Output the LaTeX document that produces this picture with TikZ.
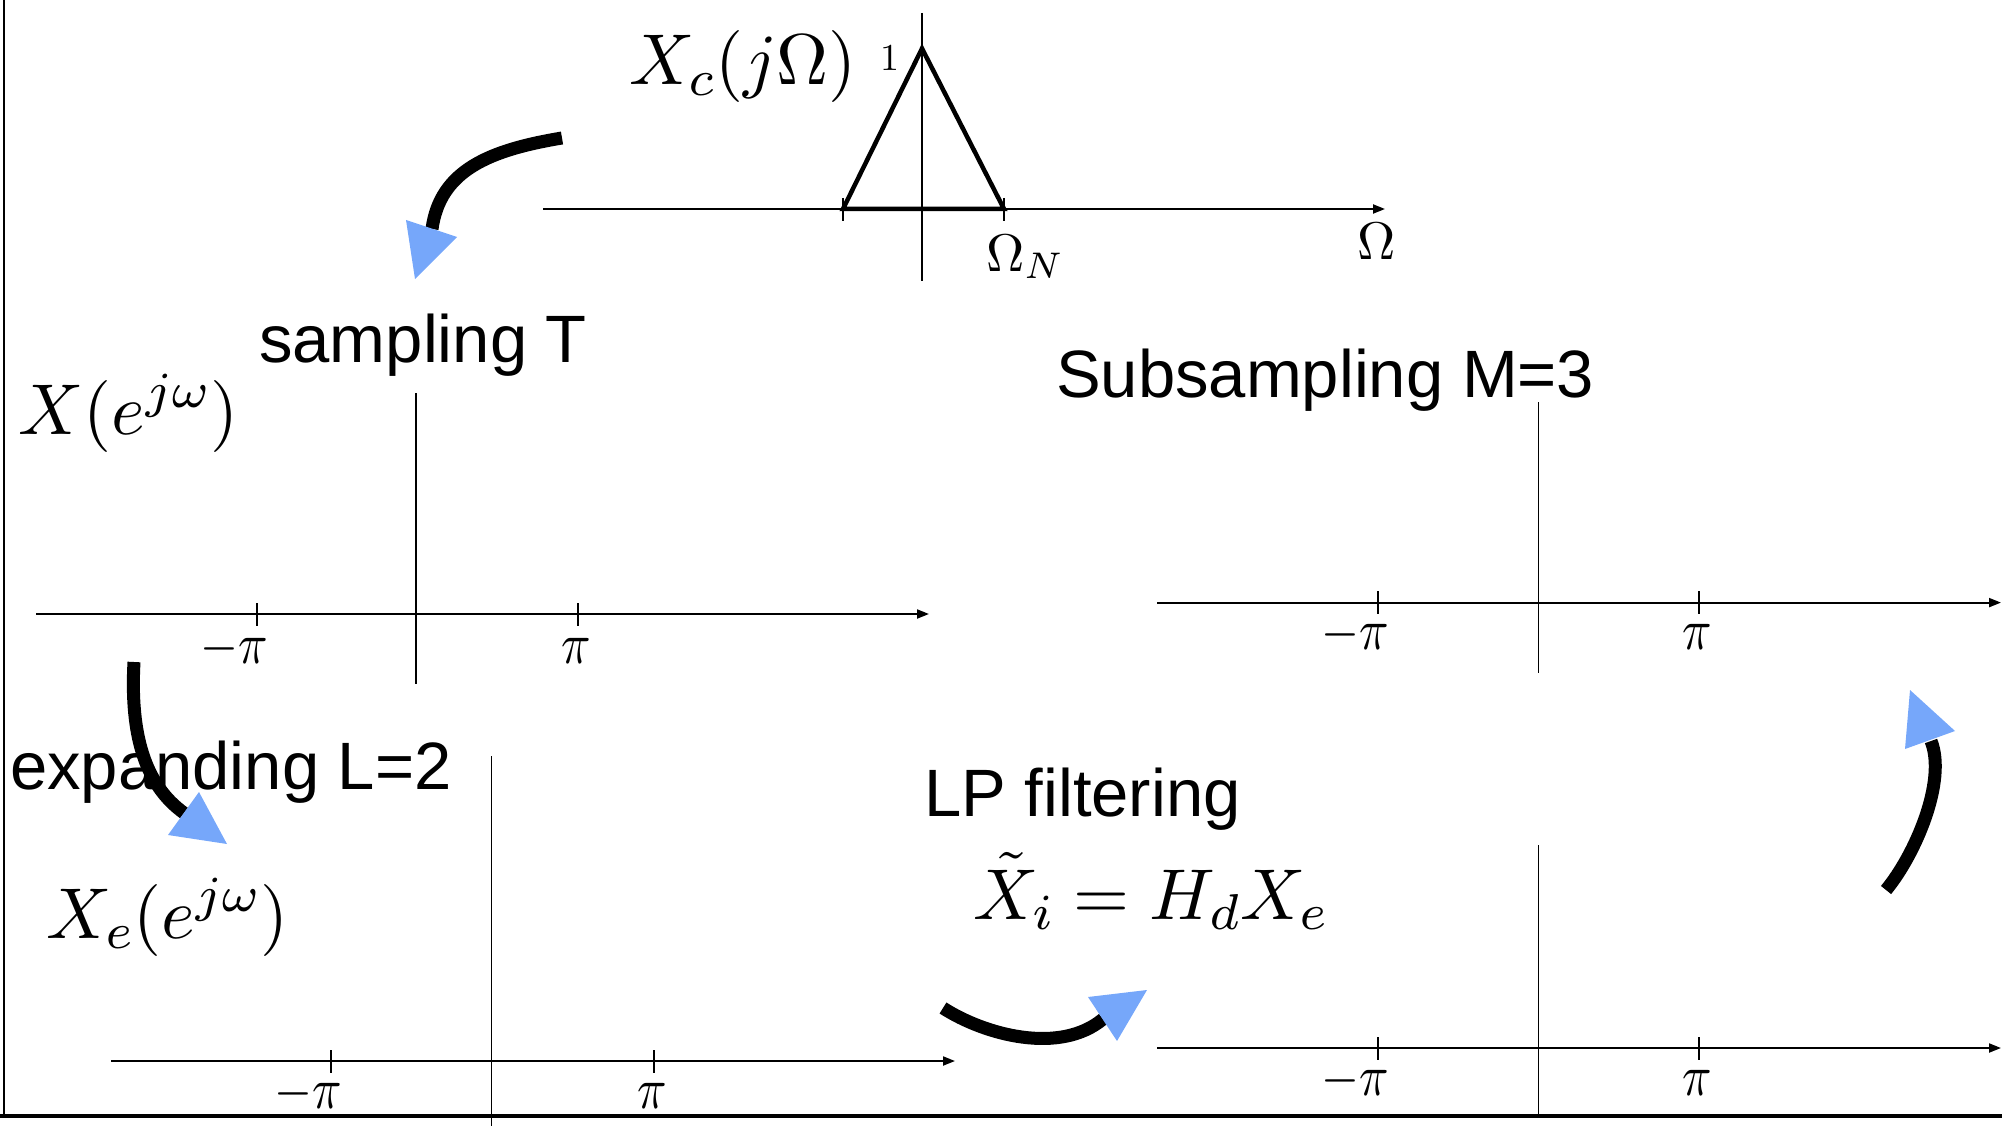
\documentclass[tikz,border=0pt]{standalone}
\usepackage{fontspec}
\newfontfamily\sansf{Liberation Sans}
\DeclareFontShape{OT1}{cmr}{m}{n}{<->cmr10}{}
\DeclareFontShape{OML}{cmm}{m}{it}{<-51>cmmi7 <51->cmmi10}{}
\DeclareFontShape{OMS}{cmsy}{m}{n}{<->cmsy10}{}
\DeclareFontShape{OMX}{cmex}{m}{n}{<->cmex10}{}
\usetikzlibrary{arrows.meta}
\definecolor{ablue}{RGB}{118,167,250}
\newcommand{\tlab}[1]{\scalebox{0.92}[1.1]{$#1$}}
\begin{document}
\begin{tikzpicture}[x=1pt,y=-1pt,
  vaxis/.style={line width=1.5pt},
  haxis/.style={line width=2pt,-{Triangle[length=12pt,width=9pt]}},
  tickmark/.style={line width=1.5pt},
  flow/.style={line width=13pt},
  head/.style={fill=ablue},
  big/.style={inner sep=0pt,font=\fontsize{72}{80}\selectfont},
  small/.style={inner sep=0pt,font=\fontsize{53}{60}\selectfont},
  tiny/.style={inner sep=0pt,font=\fontsize{38}{44}\selectfont},
  stxt/.style={inner sep=0pt,font=\fontsize{67}{72}\selectfont\sansf}]
\useasboundingbox (0,0) rectangle (2002,1126);
% frame
\draw[line width=1.5pt] (4,0) -- (4,1116);
\draw[line width=4pt] (0,1116) -- (2002,1116);

% ---------- top graph: X_c(j Omega)
\coordinate (c0) at (922,209);
\draw[vaxis] (922,13) -- (922,281);
\draw[haxis] (543,209) -- (1385,209);
\draw[tickmark] (843,198) -- (843,221);
\draw[tickmark] (1004,198) -- (1004,221);
\draw[line width=4.5pt,line join=miter] (843,209) -- (922,48.5) -- (1004,209) -- cycle;
\node[big,anchor=base west] (xc) at (629,85) {$X_c(j\Omega)$};
\node[tiny,anchor=base west] (one) at (880,71) {$1$};
\node[small,anchor=base west] (omn) at (986,271) {$\Omega_N$};
\node[small,anchor=base west] (om) at (1357,259) {$\Omega$};

% ---------- graph 2: X(e^{jw})
\draw[vaxis] (416,393) -- (416,684);
\draw[haxis] (36,614) -- (929,614);
\draw[tickmark] (257,603) -- (257,626);
\draw[tickmark] (578,603) -- (578,626);
\node[small,anchor=base east] (m2a) at (268,663) {\tlab{-\pi}};
\node[small,anchor=base] (m2b) at (576,663) {\tlab{\pi}};
\node[stxt,anchor=base west] (samp) at (259,362) {sampling T};
\node[big,anchor=base west] (x2) at (18,434) {$X(e^{j\omega})$};

% ---------- graph 3: X_e(e^{jw})
\draw[vaxis] (491.6,756) -- (491.6,1126);
\draw[haxis] (111,1061) -- (955,1061);
\draw[tickmark] (331,1050) -- (331,1073);
\draw[tickmark] (654,1050) -- (654,1073);
\node[small,anchor=base east] (m3a) at (342,1108) {\tlab{-\pi}};
\node[small,anchor=base] (m3b) at (652,1108) {\tlab{\pi}};
\node[stxt,anchor=base west] (expa) at (10,789) {expanding L=2};
\node[big,anchor=base west] (x3) at (46,938) {$X_e(e^{j\omega})$};

% ---------- graph 4: subsampling
\draw[vaxis] (1538.5,402) -- (1538.5,673);
\draw[haxis] (1157,602.6) -- (2001,602.6);
\draw[tickmark] (1378,591) -- (1378,614);
\draw[tickmark] (1699,591) -- (1699,614);
\node[small,anchor=base east] (m4a) at (1389,649) {\tlab{-\pi}};
\node[small,anchor=base] (m4b) at (1697,649) {\tlab{\pi}};
\node[stxt,anchor=base west] (subs) at (1056,397) {Subsampling M=3};

% ---------- graph 5: LP filtering
\draw[vaxis] (1538.5,845) -- (1538.5,1116);
\draw[haxis] (1157,1048) -- (2001,1048);
\draw[tickmark] (1378,1037) -- (1378,1060);
\draw[tickmark] (1699,1037) -- (1699,1060);
\node[small,anchor=base east] (m5a) at (1389,1095) {\tlab{-\pi}};
\node[small,anchor=base] (m5b) at (1697,1095) {\tlab{\pi}};
\node[stxt,anchor=base west] (lpf) at (924,816) {LP filtering};
\node[big,anchor=base west] (x5) at (973,919) {$\tilde{X}_i = H_dX_e$};

% ---------- flow arrows
\coordinate (a1s) at (562,138);
\coordinate (a1e) at (432,229);
\draw[flow] (a1s) .. controls (490,150) and (440,170) .. (a1e);
\fill[head] (406,220) -- (457,237) -- (415,279) -- cycle;

\coordinate (a2s) at (134,662);
\coordinate (a2e) at (184,813);
\draw[flow] (a2s) .. controls (130,735) and (145,785) .. (a2e);
\fill[head] (199,792) -- (227,844) -- (168,835) -- cycle;

\coordinate (a3s) at (943,1008);
\coordinate (a3e) at (1103,1019);
\draw[flow] (a3s) .. controls (985,1035) and (1060,1055) .. (a3e);
\fill[head] (1088,997) -- (1147,990) -- (1117,1041) -- cycle;

\coordinate (a4s) at (1886,890);
\coordinate (a4e) at (1931,741);
\draw[flow] (a4s) .. controls (1915,855) and (1947,781) .. (a4e);
\fill[head] (1910,690) -- (1955,731) -- (1905,749) -- cycle;
\end{tikzpicture}
\end{document}
